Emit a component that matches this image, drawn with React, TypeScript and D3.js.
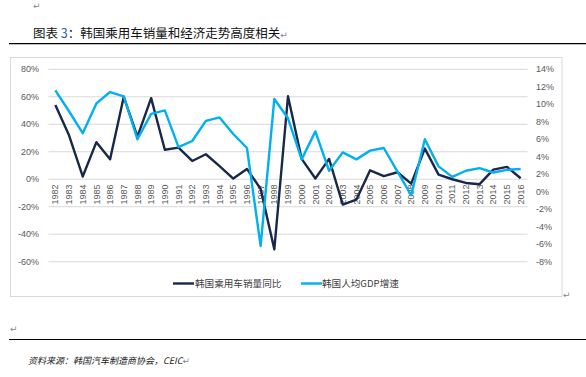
import React from "react";
import * as d3 from "d3";

const years = [
  "1982","1983","1984","1985","1986","1987","1988","1989","1990","1991",
  "1992","1993","1994","1995","1996","1997","1998","1999","2000","2001",
  "2002","2003","2004","2005","2006","2007","2008","2009","2010","2011",
  "2012","2013","2014","2015","2016",
];
// 韩国乘用车销量同比 (%), left axis
const salesYoY = [
  54, 32, 2, 27, 14.5, 60, 31, 59, 21.5, 23,
  13.3, 18.2, 9.5, 0.5, 7.5, -7, -51, 60.4, 14.8, 0.5,
  14.8, -18.4, -14.8, 6.5, 2.2, 5.1, -3.2, 22.3, 3.4, 0,
  -2.7, -3.6, 7, 9, 0.7,
];
// 韩国人均GDP增速 (%), right axis
const gdpGrowth = [
  11.6, 9.2, 6.7, 10.1, 11.4, 10.9, 6.0, 8.9, 9.3, 5.1,
  5.8, 8.1, 8.5, 6.6, 5.0, -6.2, 10.6, 8.4, 3.7, 6.9,
  2.4, 4.5, 3.7, 4.7, 5.0, 2.3, -0.4, 6.0, 2.9, 1.7,
  2.4, 2.7, 2.2, 2.5, 2.6,
];
const leftTicks = [80, 60, 40, 20, 0, -20, -40, -60];
const rightTicks = [14, 12, 10, 8, 6, 4, 2, 0, -2, -4, -6, -8];
const legendLabels = ["韩国乘用车销量同比", "韩国人均GDP增速"];
const titleText = "韩国乘用车销量和经济走势高度相关";
const sourceText = "资料来源：韩国汽车制造商协会，CEIC";

const DARK = "#17284a";
const BLUE = "#00b0f0";
const GRID = "#d9d9d9";
const TICK = "#595959";
const CJK = "'Noto Sans CJK SC', sans-serif";
const LATIN = "'Liberation Sans', Arial, sans-serif";

export default function App() {
  const top = 69.3;
  const bottom = 261.7;
  const left = 48.5;
  const right = 527.5;

  const x = d3.scaleBand<string>().domain(years).range([left, right]);
  const cx = (d: string) => (x(d) as number) + x.bandwidth() / 2;
  const yL = d3.scaleLinear().domain([-60, 80]).range([bottom, top]);
  const yR = d3.scaleLinear().domain([-8, 14]).range([bottom, top]);

  const lineL = d3
    .line<number>()
    .x((_, i) => cx(years[i]))
    .y((v) => yL(v));
  const lineR = d3
    .line<number>()
    .x((_, i) => cx(years[i]))
    .y((v) => yR(v));

  const ret = (xx: number, yy: number) => (
    <text x={xx} y={yy} fontSize={9} fill="#888" fontFamily="'DejaVu Sans', sans-serif">
      ↵
    </text>
  );

  return (
    <svg
      width={586}
      height={377}
      style={{ position: "absolute", left: 0, top: 0, background: "#fff" }}
    >
      {ret(33, 9)}
      <text x={33} y={37.5} fontSize={12.5} fontFamily={CJK} fill="#111">
        图表 <tspan fill="#1f5fbf">3</tspan>：{titleText}
        <tspan fill="#888" fontSize={9} fontFamily="'DejaVu Sans', sans-serif">↵</tspan>
      </text>
      <line x1={9} x2={586} y1={43.7} y2={43.7} stroke="#000" strokeWidth={1.2} />

      <rect x={10.5} y={57.5} width={551.5} height={239} fill="#fff" stroke={GRID} strokeWidth={1} />

      {leftTicks.map((t) => (
        <g key={"l" + t}>
          <line x1={left} x2={right} y1={yL(t)} y2={yL(t)} stroke={GRID} strokeWidth={1} />
          <text
            x={39}
            y={yL(t)}
            dy="0.35em"
            textAnchor="end"
            fontSize={9}
            fontFamily={LATIN}
            fill={TICK}
          >
            {t + "%"}
          </text>
        </g>
      ))}
      {rightTicks.map((t) => (
        <text
          key={"r" + t}
          x={536}
          y={yR(t)}
          dy="0.35em"
          textAnchor="start"
          fontSize={9}
          fontFamily={LATIN}
          fill={TICK}
        >
          {t + "%"}
        </text>
      ))}

      {years.map((yv) => (
        <text
          key={yv}
          transform={`translate(${cx(yv)},${184.5}) rotate(-90)`}
          dy="0.35em"
          textAnchor="end"
          fontSize={9}
          fontFamily={LATIN}
          fill={TICK}
        >
          {yv}
        </text>
      ))}

      <path d={lineL(salesYoY) as string} fill="none" stroke={DARK} strokeWidth={2.4} strokeLinejoin="round" />
      <path d={lineR(gdpGrowth) as string} fill="none" stroke={BLUE} strokeWidth={2.4} strokeLinejoin="round" />

      <line x1={173} x2={194} y1={283.5} y2={283.5} stroke={DARK} strokeWidth={2.4} />
      <text x={195} y={283.5} dy="0.35em" fontSize={9.6} fontFamily={CJK} fill="#404040">
        {legendLabels[0]}
      </text>
      <line x1={301} x2={322} y1={283.5} y2={283.5} stroke={BLUE} strokeWidth={2.4} />
      <text x={322} y={283.5} dy="0.35em" fontSize={9.6} fontFamily={CJK} fill="#404040">
        {legendLabels[1]}
      </text>
      {ret(563, 298)}

      {ret(10, 332)}
      <line x1={9} x2={586} y1={339.5} y2={339.5} stroke="#000" strokeWidth={1.2} />
      <text x={28} y={364} fontSize={9} fontStyle="italic" fontFamily={CJK} fill="#222">
        {sourceText}
        <tspan fill="#888" fontStyle="normal" fontFamily="'DejaVu Sans', sans-serif">↵</tspan>
      </text>
    </svg>
  );
}
